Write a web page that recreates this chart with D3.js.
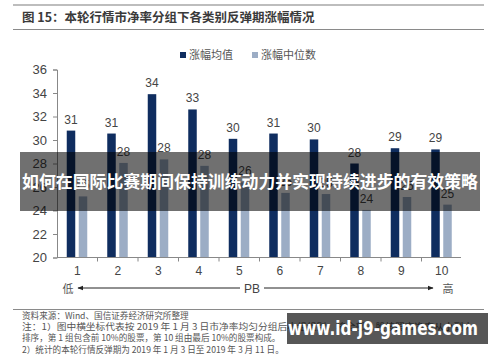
<!DOCTYPE html>
<html>
<head>
<meta charset="utf-8">
<script src="https://cdn.jsdelivr.net/npm/d3@7"></script>
<style>
  body { margin: 0; background: #fff; }
  svg { display: block; }
  text { font-family: "Liberation Sans", Arial, sans-serif; }
  .cjk { font-family: "Noto Sans CJK SC", sans-serif; }
</style>
</head>
<body>
<svg id="chart" width="500" height="362"></svg>
<script>
// data
let groups = ['1', '2', '3', '4', '5', '6', '7', '8', '9', '10'];
let meanRise = [30.8, 30.55, 33.9, 32.6, 30.1, 30.55, 30.05, 28.0, 29.3, 29.2];
let medianRise = [25.2, 28.05, 28.35, 27.8, 26.4, 25.5, 25.4, 24.05, 25.15, 24.5];
let seriesNames = ['涨幅均值', '涨幅中位数'];
let yTicks = [20, 22, 24, 26, 28, 30, 32, 34, 36];
let noteLines = [
  '资料来源：Wind、国信证券经济研究所整理',
  '注：1）图中横坐标代表按 2019 年 1 月 3 日市净率均匀分组后小组组别，将全部 A 股按照市净率从小到大',
  '排序，第 1 组包含前 10%的股票，第 10 组由最后 10%的股票构成。',
  '2）统计的本轮行情反弹期为 2019 年 1 月 3 日至 2019 年 3 月 11 日。'
];

let colors = ['#0f2d5f', '#9cadc5'];
let svg = d3.select('#chart');

// header
svg.append('line').attr('x1', 13).attr('x2', 484).attr('y1', 5).attr('y2', 5)
  .style('stroke', '#bdbdbd').style('stroke-width', 2);
svg.append('text').attr('class', 'cjk')
  .attr('x', 22).attr('y', 22)
  .style('font-size', '12.5px').style('font-weight', 'bold').style('fill', '#3a3a3a')
  .text('图  15：本轮行情市净率分组下各类别反弹期涨幅情况');
svg.append('line').attr('x1', 13).attr('x2', 484).attr('y1', 29.5).attr('y2', 29.5)
  .style('stroke', '#8a8a8a').style('stroke-width', 1);

// legend
let legend = svg.append('g').attr('transform', 'translate(180, 56)');
let legX = [0, 72];
seriesNames.forEach((n, i) => {
  legend.append('rect').attr('x', legX[i]).attr('y', -4).attr('width', 6).attr('height', 6)
    .style('fill', colors[i]);
  legend.append('text').attr('class', 'cjk')
    .attr('x', legX[i] + 9).attr('y', 3)
    .style('font-size', '11px').style('fill', '#555')
    .text(n);
});

// scales
let x = d3.scaleBand().domain(groups).range([57, 462]);
let y = d3.scaleLinear().domain([20, 36]).range([257.5, 69.5]);

// y axis
let yAxis = svg.append('g').attr('transform', 'translate(57,0)')
  .call(d3.axisLeft(y).tickValues(yTicks).tickSize(4).tickPadding(6));
yAxis.select('.domain').style('stroke', '#888');
yAxis.selectAll('.tick line').style('stroke', '#888');
yAxis.selectAll('.tick text')
  .style('font-size', '13px').style('fill', '#444')
  .style('font-family', '"Liberation Sans", Arial, sans-serif');

// bars
let barW = 8.5;
let plot = svg.append('g');
let rows = groups.map((g, i) => ({ g: g, v: [meanRise[i], medianRise[i]] }));
[0, 1].forEach(s => {
  let off = s === 0 ? -10.5 : 1.5;
  plot.selectAll('.bar' + s)
    .data(rows).enter()
    .append('rect')
    .attr('class', 'bar' + s)
    .attr('x', d => x(d.g) + x.bandwidth() / 2 + off)
    .attr('width', barW)
    .attr('y', d => y(d.v[s]))
    .attr('height', d => y(20) - y(d.v[s]))
    .style('fill', colors[s]);
  plot.selectAll('.lab' + s)
    .data(rows).enter()
    .append('text')
    .attr('x', d => x(d.g) + x.bandwidth() / 2 + off + barW / 2)
    .attr('y', d => y(d.v[s]) - 7)
    .attr('text-anchor', 'middle')
    .style('font-size', '12px').style('fill', '#444')
    .text(d => Math.round(d.v[s]));
});

// x axis
let xAxis = svg.append('g').attr('transform', 'translate(0,257.5)')
  .call(d3.axisBottom(x).tickSize(0).tickPadding(9));
xAxis.select('.domain').attr('d', 'M57,0H461').style('stroke', '#888');
xAxis.selectAll('.tick text')
  .style('font-size', '12px').style('fill', '#444')
  .style('font-family', '"Liberation Sans", Arial, sans-serif');
svg.append('g').selectAll('line')
  .data(groups.slice(1)).enter()
  .append('line')
  .attr('x1', d => x(d)).attr('x2', d => x(d))
  .attr('y1', 257.5).attr('y2', 261.5)
  .style('stroke', '#888');

// PB arrow row
svg.append('defs').append('marker')
  .attr('id', 'arrow').attr('viewBox', '0 0 10 10')
  .attr('refX', 9).attr('refY', 5)
  .attr('markerWidth', 6).attr('markerHeight', 6)
  .attr('orient', 'auto-start-reverse')
  .append('path').attr('d', 'M0,1L10,5L0,9Z').style('fill', '#222');
svg.append('line').attr('x1', 78).attr('x2', 240).attr('y1', 288).attr('y2', 288)
  .style('stroke', '#222').style('stroke-width', 1)
  .attr('marker-start', 'url(#arrow)');
svg.append('line').attr('x1', 264).attr('x2', 433).attr('y1', 288).attr('y2', 288)
  .style('stroke', '#222').style('stroke-width', 1)
  .attr('marker-end', 'url(#arrow)');
svg.append('text').attr('x', 252).attr('y', 292.5).attr('text-anchor', 'middle')
  .style('font-size', '12px').style('fill', '#444').text('PB');
svg.append('text').attr('class', 'cjk').attr('x', 68).attr('y', 292.5).attr('text-anchor', 'middle')
  .style('font-size', '11px').style('fill', '#555').text('低');
svg.append('text').attr('class', 'cjk').attr('x', 448).attr('y', 292.5).attr('text-anchor', 'middle')
  .style('font-size', '11px').style('fill', '#555').text('高');

svg.append('line').attr('x1', 13).attr('x2', 484).attr('y1', 309.5).attr('y2', 309.5)
  .style('stroke', '#8a8a8a').style('stroke-width', 1);

// notes
let noteLen = [null, 451, null, null];
svg.append('g').selectAll('text')
  .data(noteLines).enter()
  .append('text').attr('class', 'cjk')
  .attr('x', 22)
  .attr('y', (d, i) => 319 + i * 11.2)
  .attr('textLength', (d, i) => noteLen[i])
  .attr('lengthAdjust', 'spacingAndGlyphs')
  .style('font-size', '8.6px').style('fill', '#555')
  .text(d => d);

// overlay banners
svg.append('rect').attr('x', 20).attr('y', 152).attr('width', 460).attr('height', 59)
  .style('fill', 'rgba(0,0,0,0.56)');
svg.append('text').attr('class', 'cjk')
  .attr('x', 250).attr('y', 188).attr('text-anchor', 'middle')
  .attr('textLength', 456).attr('lengthAdjust', 'spacingAndGlyphs')
  .style('font-size', '17px').style('font-weight', 'bold').style('fill', '#fff')
  .text('如何在国际比赛期间保持训练动力并实现持续进步的有效策略');

svg.append('rect').attr('x', 287).attr('y', 313).attr('width', 201).attr('height', 31)
  .style('fill', 'rgba(0,0,0,0.66)');
svg.append('text')
  .attr('x', 383).attr('y', 335).attr('text-anchor', 'middle')
  .attr('textLength', 190).attr('lengthAdjust', 'spacingAndGlyphs')
  .style('font-family', '"DejaVu Sans", sans-serif')
  .style('font-size', '19px').style('font-weight', 'bold').style('fill', '#fff')
  .text('www.id-j9-games.com');
</script>
</body>
</html>
